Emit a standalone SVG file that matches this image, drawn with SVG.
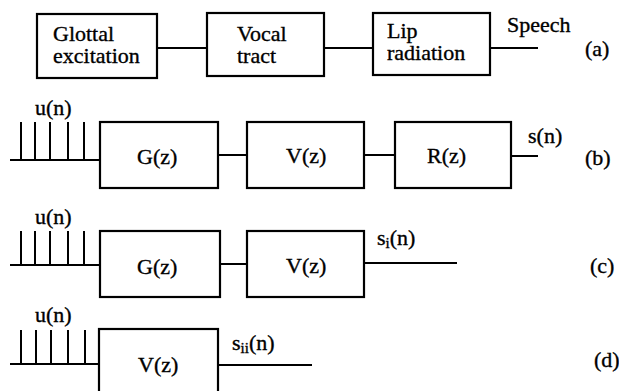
<svg xmlns="http://www.w3.org/2000/svg" width="619" height="391" viewBox="0 0 619 391">
<style>
  .box { fill: #fff; stroke: #000; stroke-width: 2.2; }
  .ln { stroke: #000; stroke-width: 2; fill: none; }
  text { font-family: "Liberation Serif", "Times New Roman", Times, "DejaVu Serif", serif; font-size: 22px; fill: #000; stroke: #000; stroke-width: 0.35; }
  .sub { font-size: 15px; }
</style>
<rect width="619" height="391" fill="#fff"/>

<!-- Connectors -->
<g id="connectors">
  <!-- (a) -->
  <line class="ln" x1="157" y1="48" x2="207" y2="48"/>
  <line class="ln" x1="324" y1="48" x2="373" y2="48"/>
  <line class="ln" x1="490" y1="48" x2="538" y2="48"/>
  <!-- (b) -->
  <polyline class="ln" points="10,160 100,160"/>
  <line class="ln" x1="21" y1="122" x2="21" y2="160"/>
  <line class="ln" x1="35" y1="122" x2="35" y2="160"/>
  <line class="ln" x1="50" y1="122" x2="50" y2="160"/>
  <line class="ln" x1="68" y1="122" x2="68" y2="160"/>
  <line class="ln" x1="84" y1="122" x2="84" y2="160"/>
  <line class="ln" x1="218" y1="155" x2="247" y2="155"/>
  <line class="ln" x1="364" y1="155" x2="395" y2="155"/>
  <line class="ln" x1="511" y1="156" x2="538" y2="156"/>
  <!-- (c) -->
  <polyline class="ln" points="10,265 100,265"/>
  <line class="ln" x1="21" y1="231" x2="21" y2="265"/>
  <line class="ln" x1="35" y1="231" x2="35" y2="265"/>
  <line class="ln" x1="50" y1="231" x2="50" y2="265"/>
  <line class="ln" x1="68" y1="231" x2="68" y2="265"/>
  <line class="ln" x1="84" y1="231" x2="84" y2="265"/>
  <line class="ln" x1="220" y1="264" x2="247" y2="264"/>
  <line class="ln" x1="364" y1="263" x2="457" y2="263"/>
  <!-- (d) -->
  <polyline class="ln" points="10,364 99,364"/>
  <line class="ln" x1="21" y1="330" x2="21" y2="364"/>
  <line class="ln" x1="36" y1="330" x2="36" y2="364"/>
  <line class="ln" x1="51" y1="330" x2="51" y2="364"/>
  <line class="ln" x1="68" y1="330" x2="68" y2="364"/>
  <line class="ln" x1="85" y1="330" x2="85" y2="364"/>
  <line class="ln" x1="218" y1="365" x2="312" y2="365"/>
</g>

<!-- Row (a) -->
<g id="glottal">
  <rect class="box" x="37" y="14" width="120" height="64"/>
  <text x="53" y="41">Glottal</text>
  <text x="53" y="63">excitation</text>
</g>
<g id="vocal">
  <rect class="box" x="207" y="13" width="117" height="63"/>
  <text x="237" y="41">Vocal</text>
  <text x="237" y="63">tract</text>
</g>
<g id="lip">
  <rect class="box" x="373" y="13" width="117" height="62"/>
  <text x="387" y="38">Lip</text>
  <text x="387" y="60">radiation</text>
</g>
<g id="speech-label">
  <text x="507" y="32">Speech</text>
</g>
<text x="585" y="56">(a)</text>

<!-- Row (b) -->
<g id="u-b"><text x="35" y="115">u(n)</text></g>
<g id="G-b">
  <rect class="box" x="100" y="122" width="118" height="66"/>
  <text x="137" y="164">G(z)</text>
</g>
<g id="V-b">
  <rect class="box" x="247" y="122" width="117" height="66"/>
  <text x="286" y="163">V(z)</text>
</g>
<g id="R-b">
  <rect class="box" x="395" y="122" width="116" height="66"/>
  <text x="427" y="163">R(z)</text>
</g>
<g id="s-b"><text x="528" y="143">s(n)</text></g>
<text x="585" y="165">(b)</text>

<!-- Row (c) -->
<g id="u-c"><text x="35" y="224">u(n)</text></g>
<g id="G-c">
  <rect class="box" x="100" y="231" width="120" height="66"/>
  <text x="137" y="274">G(z)</text>
</g>
<g id="V-c">
  <rect class="box" x="247" y="231" width="117" height="66"/>
  <text x="286" y="273">V(z)</text>
</g>
<g id="s-c"><text x="377" y="245">s<tspan class="sub" dy="3">i</tspan><tspan dy="-3">(n)</tspan></text></g>
<text x="590" y="273">(c)</text>

<!-- Row (d) -->
<g id="u-d"><text x="35" y="322">u(n)</text></g>
<g id="V-d">
  <rect class="box" x="99" y="329" width="119" height="70"/>
  <text x="138" y="372">V(z)</text>
</g>
<g id="s-d"><text x="232" y="350">s<tspan class="sub" dy="3">ii</tspan><tspan dy="-3">(n)</tspan></text></g>
<text x="594" y="367">(d)</text>
</svg>
